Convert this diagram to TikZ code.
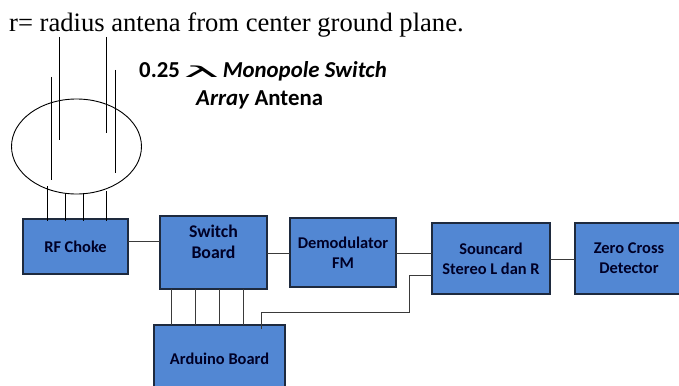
\documentclass[tikz,border=0pt]{standalone}
\usepackage{fontspec}
\usetikzlibrary{shapes.geometric}
\setmainfont{Carlito}
\newfontfamily\seriffont{Liberation Serif}
\newfontfamily\lamfont{DejaVu Sans}
\definecolor{boxblue}{HTML}{5287D3}
\definecolor{boxline}{HTML}{1E2A3E}
\definecolor{wire}{HTML}{3A3A3A}
\tikzset{
  block/.style={draw=boxline,line width=1.1pt,fill=boxblue,anchor=north west,inner sep=0pt,outer sep=0pt,align=center,font=\bfseries\fontsize{16.4pt}{20pt}\selectfont,text=black!85!blue},
  bigblock/.style={block,font=\bfseries\fontsize{17.8pt}{21pt}\selectfont},
  wired/.style={wire,line width=1pt},
  ant/.style={black,line width=0.9pt},
  caption/.style={anchor=west,inner sep=0pt,font=\bfseries\fontsize{22.8pt}{26pt}\selectfont}
}
\begin{document}
\begin{tikzpicture}[x=1pt,y=-1pt]
\useasboundingbox (0,0) rectangle (679,385);
\node[anchor=west,inner sep=0pt,font=\seriffont\fontsize{26.6pt}{30pt}\selectfont] (title) at (9,25) {r= radius antena from center ground plane.};
\node[caption] (lab1) at (139,71) {0.25\,\raisebox{-0.5pt}{\scalebox{3.5}[0.9]{\lamfont\mdseries\fontsize{17pt}{20pt}\selectfont\symbol{"03BB}}}\,\textit{Monopole Switch}};
\node[caption] (lab2) at (196,100) {\textit{Array} Antena};

\node[draw=black,line width=0.9pt,ellipse,minimum width=130pt,minimum height=95pt,inner sep=0pt,outer sep=0pt] (plane) at (76.5,146.5) {};
\coordinate (a1t) at (59,37); \coordinate (a1b) at (59,140);
\coordinate (a2t) at (106,37); \coordinate (a2b) at (106,133);
\coordinate (a3t) at (51,77); \coordinate (a3b) at (51,180);
\coordinate (a4t) at (115,70); \coordinate (a4b) at (115,173);
\draw[ant] (a1t)--(a1b); \draw[ant] (a2t)--(a2b);
\draw[ant] (a3t)--(a3b); \draw[ant] (a4t)--(a4b);

\node[block,minimum width=105pt,minimum height=55pt] (rf) at (23,219) {RF Choke};
\node[bigblock,minimum width=107pt,minimum height=73pt] (sw) at (160,216) {Switch\\Board\\\mbox{}};
\node[block,minimum width=106pt,minimum height=69pt] (dem) at (290,218) {Demodulator\\FM};
\node[block,minimum width=118pt,minimum height=71pt] (snd) at (432,223) {Souncard\\Stereo L dan R};
\node[block,minimum width=108pt,minimum height=71pt] (zero) at (575,223) {Zero Cross\\Detector};
\node[block,minimum width=131pt,minimum height=67pt] (ard) at (154,325) {Arduino Board};

\foreach \x/\y in {47/186,65/193,83/193,106/191}
  \draw[ant] (\x,\y) -- (\x,221);
\draw[wired] (rf.east |- 0,241) -- (sw.west |- 0,241);
\draw[wired] (sw.east |- 0,253) -- (dem.west |- 0,253);
\draw[wired] (dem.east |- 0,253) -- (snd.west |- 0,253);
\draw[wired] (snd.east |- 0,259) -- (zero.west |- 0,259);
\foreach \x in {171,195,219,243}
  \draw[wired] (sw.south -| \x,0) -- (ard.north -| \x,0);
\draw[wired] (261,329) |- (409,312) |- (snd.west |- 0,275);
\end{tikzpicture}
\end{document}
